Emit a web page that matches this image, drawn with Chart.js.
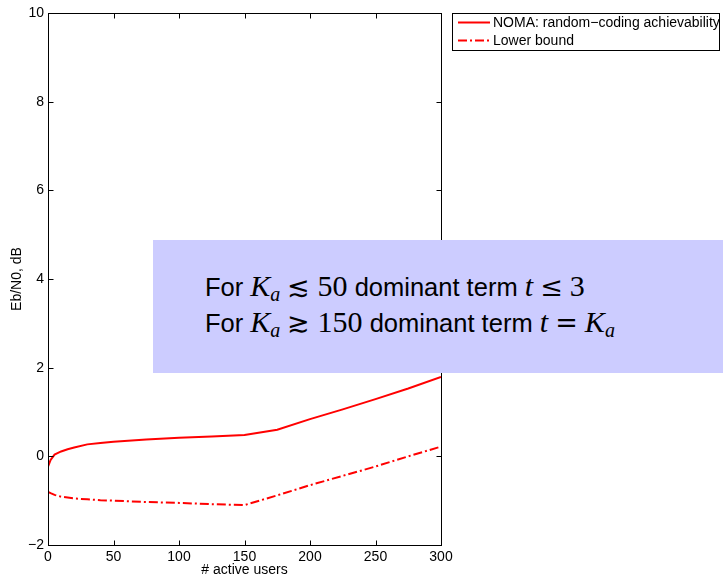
<!DOCTYPE html>
<html>
<head>
<meta charset="utf-8">
<script src="https://cdn.jsdelivr.net/npm/chart.js@4/dist/chart.umd.min.js"></script>
<style>
  html, body { margin: 0; padding: 0; background: #fff; }
  #wrap { position: relative; width: 723px; height: 578px; overflow: hidden; }
  #c { position: absolute; left: 0; top: 0; }
  #note { position: absolute; left: 153px; top: 240px; width: 570px; height: 133px; background: #ccccff; }
  .ln { position: absolute; left: 52px; white-space: nowrap; font-family: "Liberation Sans", Arial, sans-serif; font-size: 25.5px; line-height: 30px; color: #000; }
  .m { font-family: "Liberation Serif", "DejaVu Serif", serif; font-size: 30px; }
  .mi { font-family: "Liberation Serif", "DejaVu Serif", serif; font-style: italic; font-size: 30px; }
  .sub { font-family: "Liberation Serif", serif; font-style: italic; font-size: 20px; position: relative; top: 5px; }
  .rel { font-family: "DejaVu Serif", serif; font-size: 27px; }
</style>
</head>
<body>
<div id="wrap">
  <canvas id="c" width="723" height="578"></canvas>
  <div id="note">
    <div class="ln" style="top:31px">For <span class="mi">K</span><span class="sub">a</span> <span class="rel">≲</span> <span class="m">50</span> dominant term <span class="mi">t</span> <span class="rel">≤</span> <span class="m">3</span></div>
    <div class="ln" style="top:67px">For <span class="mi">K</span><span class="sub">a</span> <span class="rel">≳</span> <span class="m">150</span> dominant term <span class="mi">t</span> <span class="rel">=</span> <span class="mi">K</span><span class="sub">a</span></div>
  </div>
</div>
<script>
const activeUsers = [0, 2, 5, 10, 15, 20, 30, 40, 50, 75, 100, 125, 150, 175, 200, 225, 250, 275, 300];
const nomaAchievability = [-0.23, -0.08, 0.04, 0.11, 0.16, 0.20, 0.27, 0.30, 0.33, 0.38, 0.42, 0.45, 0.48, 0.60, 0.84, 1.06, 1.29, 1.53, 1.79];
const lowerBound = [-0.80, -0.83, -0.87, -0.91, -0.93, -0.95, -0.97, -0.99, -1.00, -1.03, -1.05, -1.08, -1.10, -0.88, -0.65, -0.44, -0.23, 0.00, 0.22];
const xTicks = [0, 50, 100, 150, 200, 250, 300];
const yTicks = [-2, 0, 2, 4, 6, 8, 10];
const seriesNames = ["NOMA: random\u2212coding achievability", "Lower bound"];

const toPoints = (ys) => activeUsers.map((x, i) => ({ x: x, y: ys[i] }));

const boxPlugin = {
  id: 'matlabBox',
  afterDraw(chart) {
    const ctx = chart.ctx;
    const a = chart.chartArea;
    const xs = chart.scales.x, ys = chart.scales.y;
    const L = Math.round(a.left) + 0.5, R = Math.round(a.right) + 0.5;
    const T = Math.round(a.top) + 0.5, B = Math.round(a.bottom) + 0.5;
    ctx.save();
    ctx.strokeStyle = '#000';
    ctx.lineWidth = 1;
    ctx.strokeRect(L, T, R - L, B - T);
    ctx.beginPath();
    const tl = 5;
    xTicks.forEach(v => {
      const px = Math.round(xs.getPixelForValue(v)) + 0.5;
      ctx.moveTo(px, B); ctx.lineTo(px, B - tl);
      ctx.moveTo(px, T); ctx.lineTo(px, T + tl);
    });
    yTicks.forEach(v => {
      const py = Math.round(ys.getPixelForValue(v)) + 0.5;
      ctx.moveTo(L, py); ctx.lineTo(L + tl, py);
      ctx.moveTo(R, py); ctx.lineTo(R - tl, py);
    });
    ctx.stroke();

    // legend
    const lx = 452.5, ly = 13.5, lw = 267, lh = 37;
    ctx.fillStyle = '#fff';
    ctx.fillRect(lx, ly, lw, lh);
    ctx.strokeRect(lx, ly, lw, lh);
    const rows = [22.5, 40.5];
    chart.data.datasets.forEach((ds, i) => {
      ctx.save();
      ctx.strokeStyle = ds.borderColor;
      ctx.lineWidth = ds.borderWidth;
      ctx.setLineDash(ds.borderDash || []);
      ctx.beginPath();
      ctx.moveTo(458, rows[i]); ctx.lineTo(490, rows[i]);
      ctx.stroke();
      ctx.restore();
      ctx.fillStyle = '#000';
      ctx.font = '14px "Liberation Sans", Arial, sans-serif';
      ctx.textBaseline = 'middle';
      ctx.textAlign = 'left';
      ctx.fillText(ds.label, 493, rows[i] + 0.5);
    });
    ctx.restore();
  }
};

const tickFont = { family: '"Liberation Sans", Arial, sans-serif', size: 14 };
const titleFont = { family: '"Liberation Sans", Arial, sans-serif', size: 14 };

new Chart(document.getElementById('c'), {
  type: 'line',
  data: {
    datasets: [
      { label: seriesNames[0], data: toPoints(nomaAchievability), borderColor: '#ff0000', borderWidth: 2, pointRadius: 0, tension: 0, fill: false },
      { label: seriesNames[1], data: toPoints(lowerBound), borderColor: '#ff0000', borderWidth: 2, borderDash: [9, 3, 2, 3], pointRadius: 0, tension: 0, fill: false }
    ]
  },
  options: {
    responsive: false,
    animation: false,
    devicePixelRatio: 1,
    layout: { padding: { top: 13, right: 282, left: 0, bottom: 0 } },
    plugins: { legend: { display: false }, tooltip: { enabled: false } },
    scales: {
      x: {
        type: 'linear', min: 0, max: 300,
        afterBuildTicks: (s) => { s.ticks = xTicks.map(v => ({ value: v })); },
        afterFit: (s) => { s.height = 33; },
        grid: { display: false, drawTicks: false },
        border: { display: false },
        ticks: { font: tickFont, color: '#000', padding: 4, maxRotation: 0 },
        title: { display: true, text: '# active users', font: titleFont, color: '#000', padding: { top: 0, bottom: -1 } }
      },
      y: {
        type: 'linear', min: -2, max: 10,
        afterBuildTicks: (s) => { s.ticks = yTicks.map(v => ({ value: v })); },
        afterFit: (s) => { s.width = 48; },
        grid: { display: false, drawTicks: false },
        border: { display: false },
        ticks: { font: tickFont, color: '#000', padding: 4, callback: (v) => (v < 0 ? '\u2212' + Math.abs(v) : String(v)) },
        title: { display: true, text: 'Eb/N0, dB', font: titleFont, color: '#000', padding: { top: 9, bottom: 0 } }
      }
    }
  },
  plugins: [boxPlugin]
});
</script>
</body>
</html>
